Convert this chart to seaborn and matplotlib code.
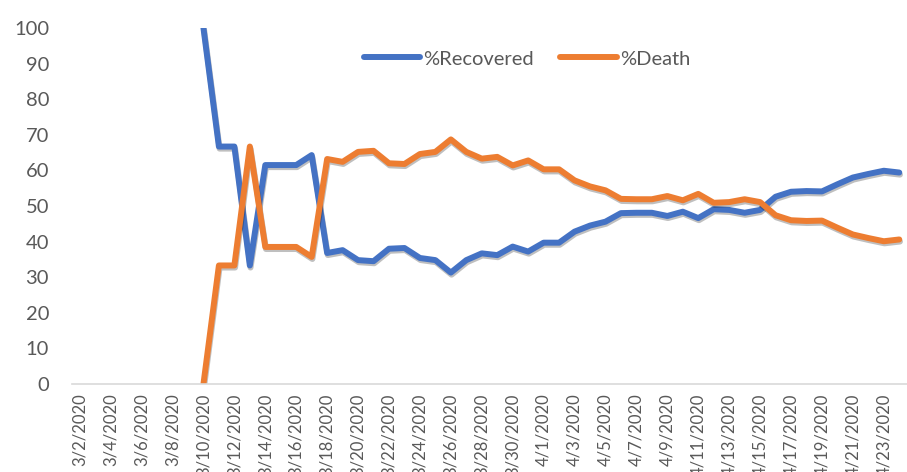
import numpy as np
import pandas as pd
import matplotlib
matplotlib.use('Agg')
import matplotlib.pyplot as plt
import matplotlib.patheffects as pe
import seaborn as sns

# --- DATA
first_day = '2020-03-02'
last_day = '2020-04-24'
data_start = '2020-03-10'

recovered = [100, 66.7, 66.7, 33.3, 61.5, 61.5, 61.5, 64.3, 36.8, 37.6,
             34.8, 34.5, 38.0, 38.2, 35.4, 34.8, 31.3, 34.8, 36.7, 36.2,
             38.6, 37.2, 39.7, 39.7, 42.8, 44.5, 45.6, 48.0, 48.1, 48.1,
             47.2, 48.4, 46.6, 49.1, 48.9, 48.1, 48.9, 52.6, 54.0, 54.2,
             54.1, 56.1, 58.0, 59.0, 59.9, 59.4]
death = [0, 33.3, 33.3, 66.7, 38.5, 38.5, 38.5, 35.7, 63.2, 62.4,
         65.2, 65.5, 62.0, 61.8, 64.6, 65.2, 68.7, 65.2, 63.3, 63.8,
         61.4, 62.8, 60.3, 60.3, 57.2, 55.5, 54.4, 52.0, 51.9, 51.9,
         52.8, 51.6, 53.4, 50.9, 51.1, 51.9, 51.1, 47.4, 46.0, 45.8,
         45.9, 43.9, 42.0, 41.0, 40.1, 40.6]

series_names = ['%Recovered', '%Death']
colors = ['#4472C4', '#ED7D31']

#%%

dates = pd.date_range(first_day, last_day, freq='D')
df = pd.DataFrame({'date': dates})
df['pos'] = np.arange(len(df))
vals = pd.DataFrame({'date': pd.date_range(data_start, periods=len(recovered), freq='D'),
                     '%Recovered': recovered, '%Death': death})
df = df.merge(vals, on='date', how='left')
long = df.melt(id_vars=['date', 'pos'], value_vars=series_names,
               var_name='series', value_name='pct')

sns.set_style('white')
plt.rcParams['font.family'] = ['Lato', 'DejaVu Sans']
grey = '#595959'

fig = plt.figure(figsize=(9.07, 4.72), dpi=100)
ax = fig.add_axes([0.0794, 0.1864, 0.9206, 0.7543])

sns.lineplot(data=long, x='pos', y='pct', hue='series', hue_order=series_names,
             palette=colors, linewidth=4.3, ax=ax)

for line in ax.get_lines():
    line.set_path_effects([pe.SimpleLineShadow(offset=(0.5, -1.5), alpha=0.25, shadow_color='black'),
                           pe.Normal()])
    line.set_solid_joinstyle('round')
    line.set_solid_capstyle('round')

ax.set_ylim(0, 100)
ax.set_yticks(np.arange(0, 101, 10))
ax.set_xlim(-0.5, 53.13)

label_pos = df['pos'][::2]
ax.set_xticks(label_pos)
ax.set_xticklabels([f'{d.month}/{d.day}/{d.year}' for d in df['date'][::2]],
                   rotation=90, va='top', ha='center')
ax.set_xticks(np.arange(-0.5, 54, 2), minor=True)
ax.tick_params(axis='x', which='major', length=0, pad=7, labelsize=12, labelcolor=grey)
ax.tick_params(axis='x', which='minor', length=5, color='#D9D9D9', width=1.2, direction='out')
ax.tick_params(axis='y', length=0, pad=16.5, labelsize=14.5, labelcolor=grey)

for s in ['top', 'right', 'left']:
    ax.spines[s].set_visible(False)
ax.spines['bottom'].set_color('#D9D9D9')
ax.spines['bottom'].set_linewidth(1.2)

ax.set_xlabel('')
ax.set_ylabel('')

handles, labels = ax.get_legend_handles_labels()
for h in handles:
    h.set_path_effects([])
    h.set_solid_capstyle('round')
ax.legend(handles, labels, loc='center', bbox_to_anchor=(0.545, 0.913), ncol=2,
          frameon=False, fontsize=14.5, handlelength=2.8, handletextpad=0.15,
          columnspacing=1.3, labelcolor=grey)

fig.savefig('out.png', dpi=100)
